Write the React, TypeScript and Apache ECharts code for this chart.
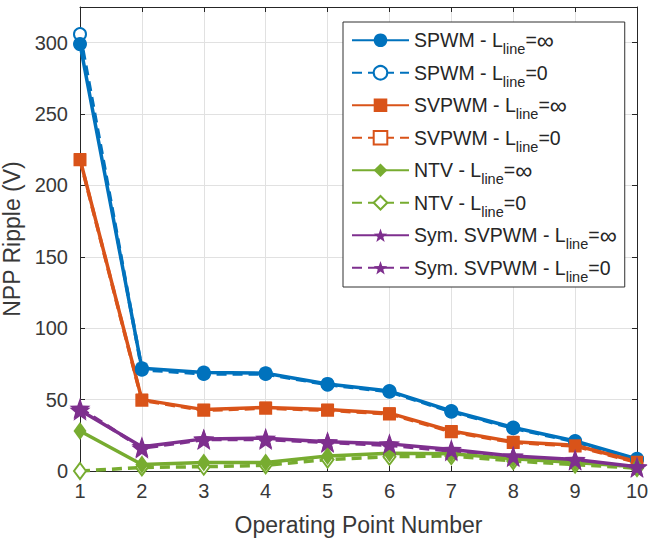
import React, { useEffect, useRef } from "react";
import * as echarts from "echarts";

// Operating points on the x axis
const pointNumbers = [1, 2, 3, 4, 5, 6, 7, 8, 9, 10];

// Neutral-point potential ripple (V) per modulation scheme and line inductance
const spwmInf = [299, 72, 69, 68.5, 61, 56, 42, 30.5, 21, 8.5];
const spwmZero = [306, 71, 68, 68, 60.5, 55.5, 41.5, 30, 20.5, 8];
const svpwmInf = [218.5, 50, 43, 44.5, 43, 40.5, 28, 20.5, 18, 6.5];
const svpwmZero = [218, 49.5, 42.5, 44, 42.5, 40, 27.5, 20, 17.5, 6];
const ntvInf = [28, 4.5, 6, 6, 10.5, 12.5, 12, 8.5, 6, 3];
const ntvZero = [0, 2.5, 3, 4, 8, 10, 10.5, 7, 4.5, 2];
const symInf = [42.5, 17, 22.5, 23, 20.5, 19, 15, 10.5, 8, 3];
const symZero = [44, 16, 22, 22, 20, 18, 14, 10, 7.5, 2.5];

const yTicks = [0, 50, 100, 150, 200, 250, 300];

const BLUE = "#0072BD";
const ORANGE = "#D95319";
const GREEN = "#77AC30";
const PURPLE = "#7E2F8E";
const TEXT = "#383838";
const FONT = "'Liberation Sans', Arial, Helvetica, sans-serif";

const STAR =
  "path://M12,0.5 L14.9,8.6 L23.5,8.9 L16.7,14.2 L19.1,22.5 L12,17.6 L4.9,22.5 L7.3,14.2 L0.5,8.9 L9.1,8.6 Z";

type Spec = {
  scheme: string;
  inf: boolean;
  values: number[];
  color: string;
  symbol: string;
  size: number | number[];
  hollow: boolean;
};

const specs: Spec[] = [
  { scheme: "SPWM", inf: true, values: spwmInf, color: BLUE, symbol: "circle", size: 14, hollow: false },
  { scheme: "SPWM", inf: false, values: spwmZero, color: BLUE, symbol: "emptyCircle", size: 12, hollow: true },
  { scheme: "SVPWM", inf: true, values: svpwmInf, color: ORANGE, symbol: "rect", size: 12, hollow: false },
  { scheme: "SVPWM", inf: false, values: svpwmZero, color: ORANGE, symbol: "emptyRect", size: 11, hollow: true },
  { scheme: "NTV", inf: true, values: ntvInf, color: GREEN, symbol: "diamond", size: [13, 18], hollow: false },
  { scheme: "NTV", inf: false, values: ntvZero, color: GREEN, symbol: "emptyDiamond", size: [12, 16], hollow: true },
  { scheme: "Sym. SVPWM", inf: true, values: symInf, color: PURPLE, symbol: STAR, size: 21, hollow: false },
  { scheme: "Sym. SVPWM", inf: false, values: symZero, color: PURPLE, symbol: STAR, size: 21, hollow: false },
];

const seriesName = (s: Spec) => `${s.scheme} - L_line=${s.inf ? "∞" : "0"}`;

export default function App() {
  const ref = useRef<HTMLDivElement>(null);

  useEffect(() => {
    if (!ref.current) return;
    const chart = echarts.init(ref.current, null, { renderer: "svg" });

    // dashed (L_line = 0) curves go underneath the solid ones
    const ordered = [...specs.filter((s) => !s.inf), ...specs.filter((s) => s.inf)];

    const series = ordered.map((s) => ({
      name: seriesName(s),
      type: "line",
      xAxisIndex: 0,
      yAxisIndex: 0,
      data: pointNumbers.map((x, i) => [x, s.values[i]]),
      symbol: s.symbol,
      symbolSize: s.size,
      showSymbol: true,
      showAllSymbol: true,
      lineStyle: { color: s.color, width: 3.5, type: s.inf ? "solid" : [10, 6] },
      itemStyle: s.hollow
        ? { color: s.color, borderColor: s.color, borderWidth: 3 }
        : { color: s.color, borderColor: s.color, borderWidth: 0 },
      emphasis: { disabled: true },
    }));

    const axisCommon = {
      axisLine: { show: true, onZero: false, lineStyle: { color: "#262626", width: 1 } },
      axisTick: { show: true, inside: true, length: 5, lineStyle: { color: "#262626" } },
    };

    chart.setOption({
      animation: false,
      backgroundColor: "#ffffff",
      textStyle: { fontFamily: FONT },
      grid: {
        left: 80,
        right: 12,
        top: 7,
        bottom: 70,
        containLabel: false,
        outerBoundsMode: "none",
      },
      xAxis: [
        {
          type: "value",
          min: 1,
          max: 10,
          interval: 1,
          position: "bottom",
          ...axisCommon,
          axisLabel: { color: TEXT, fontSize: 20, fontFamily: FONT, margin: 10 },
          splitLine: { show: true, lineStyle: { color: "#e1e1e1", width: 1 } },
          name: "Operating Point Number",
          nameLocation: "middle",
          nameGap: 42,
          nameTextStyle: { color: TEXT, fontSize: 23, fontFamily: FONT },
        },
        {
          type: "value",
          min: 1,
          max: 10,
          interval: 1,
          position: "top",
          ...axisCommon,
          axisLabel: { show: false },
          splitLine: { show: false },
        },
      ],
      yAxis: [
        {
          type: "value",
          min: 0,
          max: 325,
          interval: 50,
          position: "left",
          ...axisCommon,
          axisLabel: {
            color: TEXT,
            fontSize: 20,
            fontFamily: FONT,
            margin: 12,
            formatter: (v: number) => (yTicks.includes(v) ? String(v) : ""),
          },
          splitLine: { show: true, lineStyle: { color: "#e1e1e1", width: 1 } },
          name: "NPP Ripple (V)",
          nameLocation: "middle",
          nameGap: 45,
          nameRotate: 90,
          nameTextStyle: { color: TEXT, fontSize: 23, fontFamily: FONT },
        },
        {
          type: "value",
          min: 0,
          max: 325,
          interval: 50,
          position: "right",
          ...axisCommon,
          axisLabel: { show: false },
          splitLine: { show: false },
        },
      ],
      legend: {
        data: specs.map(seriesName),
        orient: "vertical",
        left: 343,
        top: 22,
        padding: [2, 8, 3, 8],
        itemGap: 0,
        itemWidth: 57,
        itemHeight: 17,
        backgroundColor: "#ffffff",
        borderColor: "#303030",
        borderWidth: 1,
        selectedMode: false,
        formatter: (name: string) => {
          const [head, tail] = name.split("_line=");
          const value = tail === "∞" ? "{i|∞}" : "{t|0}";
          return `{t|${head}}{s|line}{t|=}${value}`;
        },
        textStyle: {
          color: "#262626",
          fontSize: 19.5,
          fontFamily: FONT,
          rich: {
            t: { fontSize: 19.5, fontFamily: FONT, color: "#262626", lineHeight: 20 },
            i: { fontSize: 24, fontFamily: FONT, color: "#262626", lineHeight: 20 },
            s: {
              fontSize: 14.5,
              fontFamily: FONT,
              color: "#262626",
              lineHeight: 14,
              padding: [17.5, 0, 0, 0],
            },
          },
        },
      },
      series,
    });

    return () => chart.dispose();
  }, []);

  return (
    <div
      ref={ref}
      style={{ position: "fixed", left: 0, top: 0, width: 649, height: 541 }}
    />
  );
}
